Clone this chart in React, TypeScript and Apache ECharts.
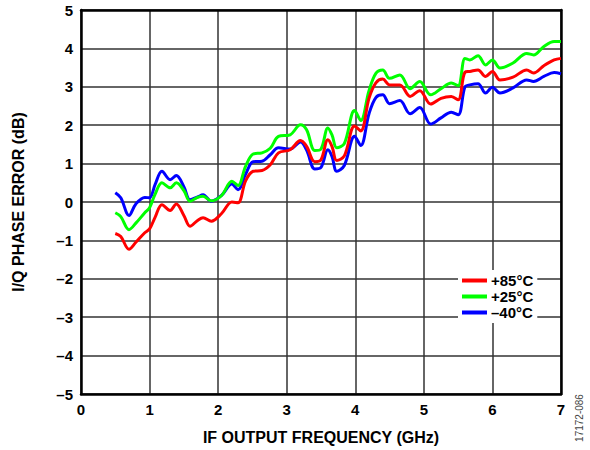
import React, { useEffect, useRef } from "react";
import * as echarts from "echarts";

const freqGHz = [0.5, 0.58, 0.7, 0.8, 0.93, 1.0, 1.08, 1.18, 1.3, 1.39, 1.5, 1.59, 1.7, 1.78, 1.9, 2.05, 2.2, 2.29, 2.4, 2.51, 2.64, 2.76, 2.88, 3.05, 3.2, 3.29, 3.41, 3.5, 3.6, 3.66, 3.73, 3.84, 3.99, 4.08, 4.2, 4.3, 4.4, 4.5, 4.65, 4.8, 4.94, 5.1, 5.25, 5.4, 5.5, 5.6, 5.67, 5.79, 5.9, 6.0, 6.11, 6.3, 6.5, 6.6, 6.75, 6.9, 7.0];

const errPlus85 = [-0.82, -0.9, -1.23, -1.05, -0.8, -0.7, -0.4, -0.07, -0.22, -0.05, -0.35, -0.63, -0.48, -0.41, -0.5, -0.3, 0.0, -0.02, 0.55, 0.8, 0.82, 0.97, 1.28, 1.36, 1.6, 1.45, 1.05, 1.1, 1.62, 1.45, 1.08, 1.2, 1.98, 1.85, 2.7, 3.1, 3.2, 3.05, 3.05, 2.75, 2.9, 2.55, 2.7, 2.75, 2.66, 3.38, 3.4, 3.44, 3.27, 3.4, 3.18, 3.25, 3.44, 3.36, 3.55, 3.7, 3.74];

const errPlus25 = [-0.28, -0.38, -0.72, -0.55, -0.28, -0.15, 0.2, 0.5, 0.37, 0.5, 0.3, 0.02, 0.12, 0.15, 0.03, 0.17, 0.54, 0.43, 0.93, 1.25, 1.28, 1.4, 1.71, 1.75, 2.01, 1.88, 1.34, 1.38, 1.93, 1.75, 1.41, 1.52, 2.38, 2.12, 2.9, 3.35, 3.44, 3.22, 3.31, 2.95, 3.14, 2.79, 2.95, 3.1, 3.03, 3.74, 3.7, 3.81, 3.57, 3.7, 3.49, 3.62, 3.87, 3.83, 4.05, 4.18, 4.18];

const errMinus40 = [0.24, 0.11, -0.35, -0.05, 0.12, 0.11, 0.45, 0.8, 0.58, 0.69, 0.4, 0.06, 0.13, 0.19, 0.02, 0.17, 0.47, 0.32, 0.72, 1.05, 1.06, 1.23, 1.41, 1.38, 1.56, 1.35, 0.86, 0.9, 1.36, 1.19, 0.8, 0.95, 1.71, 1.47, 2.3, 2.72, 2.79, 2.56, 2.64, 2.3, 2.46, 2.03, 2.19, 2.34, 2.27, 3.0, 3.05, 3.08, 2.84, 2.99, 2.84, 2.97, 3.18, 3.14, 3.27, 3.37, 3.34];

const seriesNames = ["+85°C", "+25°C", "–40°C"];
const seriesColors = ["#ff0000", "#00ff00", "#0000ff"];
const seriesValues = [errPlus85, errPlus25, errMinus40];

const FONT = "'Liberation Sans', Arial, sans-serif";

export default function App() {
  const ref = useRef<HTMLDivElement>(null);
  useEffect(() => {
    if (!ref.current) return;
    const chart = echarts.init(ref.current, undefined, { renderer: "svg" });
    const fmt = (v: number) => (v < 0 ? "–" + Math.abs(v) : String(v));
    chart.setOption({
      animation: false,
      backgroundColor: "#ffffff",
      textStyle: { fontFamily: FONT },
      grid: { left: 81, right: 29, top: 10, bottom: 55 },
      legend: {
        orient: "vertical",
        left: 458,
        top: 270,
        padding: [3, 4, 3, 4],
        itemGap: 1,
        itemWidth: 25,
        itemHeight: 4,
        icon: "rect",
        backgroundColor: "#ffffff",
        data: seriesNames,
        textStyle: { fontFamily: FONT, fontSize: 15, fontWeight: "bold", color: "#000", padding: [0, 0, 0, -1] },
      },
      xAxis: [
        {
          type: "value",
          min: 0,
          max: 7,
          interval: 1,
          name: "IF OUTPUT FREQUENCY (GHz)",
          nameLocation: "middle",
          nameGap: 35,
          nameTextStyle: { fontFamily: FONT, fontSize: 16, fontWeight: "bold", color: "#000" },
          axisLine: { show: true, onZero: false, lineStyle: { color: "#000", width: 2.5 } },
          axisTick: { show: false },
          axisLabel: { fontFamily: FONT, fontSize: 15, fontWeight: "bold", color: "#000", margin: 8 },
          splitLine: { show: true, lineStyle: { color: "#333", width: 1.5 } },
        },
        {
          type: "value",
          position: "top",
          min: 0,
          max: 7,
          axisLine: { show: true, onZero: false, lineStyle: { color: "#000", width: 2.5 } },
          axisTick: { show: false },
          axisLabel: { show: false },
          splitLine: { show: false },
        },
      ],
      yAxis: [
        {
          type: "value",
          min: -5,
          max: 5,
          interval: 1,
          name: "I/Q PHASE ERROR (dB)",
          nameLocation: "middle",
          nameGap: 55,
          nameTextStyle: { fontFamily: FONT, fontSize: 16, fontWeight: "bold", color: "#000" },
          axisLine: { show: true, onZero: false, lineStyle: { color: "#000", width: 2.5 } },
          axisTick: { show: false },
          axisLabel: { fontFamily: FONT, fontSize: 15, fontWeight: "bold", color: "#000", margin: 8, formatter: fmt },
          splitLine: { show: true, lineStyle: { color: "#333", width: 1.5 } },
        },
        {
          type: "value",
          position: "right",
          min: -5,
          max: 5,
          axisLine: { show: true, onZero: false, lineStyle: { color: "#000", width: 2.5 } },
          axisTick: { show: false },
          axisLabel: { show: false },
          splitLine: { show: false },
        },
      ],
      graphic: [
        {
          type: "text",
          x: 579,
          y: 418,
          rotation: Math.PI / 2,
          style: {
            text: "17172-086",
            fontFamily: FONT,
            fontSize: 10,
            fill: "#444",
            align: "center",
            verticalAlign: "middle",
          },
        },
      ],
      series: seriesNames.map((name, i) => ({
        name,
        type: "line",
        xAxisIndex: 0,
        yAxisIndex: 0,
        data: freqGHz.map((f, j) => [f, seriesValues[i][j]]),
        smooth: 0.35,
        showSymbol: false,
        symbol: "none",
        color: seriesColors[i],
        lineStyle: { color: seriesColors[i], width: 3 },
        z: 5 - i,
      })),
    });
    return () => chart.dispose();
  }, []);
  return <div ref={ref} style={{ width: 590, height: 450, position: "absolute", left: 0, top: 0 }} />;
}
